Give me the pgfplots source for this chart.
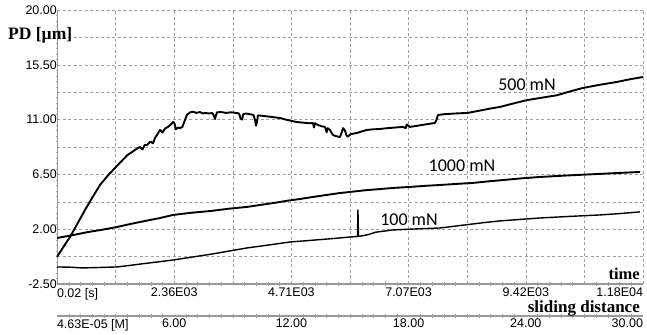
\documentclass[border=0pt]{standalone}
\usepackage{fontspec}
\setmainfont{Liberation Serif}
\newfontfamily\tsans{Liberation Sans}
\newfontfamily\calib{Carlito}
\usepackage{pgfplots}
\pgfplotsset{compat=1.18}
\begin{document}
\begin{tikzpicture}
\path[use as bounding box] (-57bp,-51bp) rectangle (590bp,284bp);
\begin{axis}[
  at={(0,0)}, anchor=south west,
  scale only axis, width=586bp, height=274bp,
  xmin=0, xmax=11780, ymin=-2.5, ymax=20,
  scaled x ticks=false, scaled y ticks=false,
  axis x line*=bottom, axis y line*=left,
  x axis line style={-, draw=gray!80, line width=1.6bp},
  y axis line style={-, draw=gray!80, line width=0.8bp},
  xtick={0,1178,2356,3534,4712,5890,7068,8246,9424,10602,11780},
  xticklabels={\makebox[0pt][l]{0.02 [s]},{},2.36E03,{},4.71E03,{},7.07E03,{},9.42E03,{},\makebox[0pt][r]{1.18E04}},
  ytick={-2.5,-0.25,2,4.25,6.5,8.75,11,13.25,15.5,17.75,20},
  yticklabels={-2.50,{},2.00,{},6.50,{},11.00,{},15.50,{},20.00},
  minor x tick num=4, minor y tick num=4,
  major tick length=0pt, minor tick length=3bp, tick align=center,
  tick style={draw=gray!70, line width=0.4bp},
  grid=major,
  major grid style={draw=gray!75, line width=0.5bp, dash pattern=on 3bp off 2.5bp},
  xticklabel style={font=\tsans\fontsize{12.5bp}{14bp}\selectfont, anchor=north, inner sep=0pt, yshift=-4bp},
  yticklabel style={font=\tsans\fontsize{12.5bp}{14bp}\selectfont, anchor=east, inner sep=0pt, xshift=0bp},
  clip=false,
]
% 500 mN
\addplot[black, line width=1.9bp, line join=round] coordinates {
(0,-0.28) (130,0.55) (261,1.36) (410,2.45) (563,3.58) (710,4.6) (864,5.63) (1010,6.35)
(1166,7.03) (1300,7.6) (1420,8.1) (1508,8.34) (1600,8.6) (1668,8.75) (1720,8.55) (1760,8.9)
(1809,8.92) (1880,9.2) (1930,9.05) (1970,9.49) (2020,9.8) (2070,10.15) (2120,9.95) (2180,10.3)
(2231,10.4) (2290,10.6) (2332,10.8) (2360,10.7) (2392,10.2) (2430,10.35) (2472,10.3) (2520,10.4)
(2553,10.75) (2585,11.1) (2613,11.4) (2680,11.6) (2734,11.65) (2800,11.55) (2870,11.62) (2940,11.5)
(2975,11.55) (3060,11.5) (3120,11.55) (3150,11.35) (3176,11.05) (3200,11.4) (3216,11.6) (3300,11.62)
(3400,11.55) (3500,11.6) (3600,11.55) (3660,11.5) (3690,11.1) (3720,11.0) (3745,11.45) (3799,11.5)
(3870,11.45) (3950,11.38) (3985,10.9) (4000,10.5) (4020,10.8) (4040,11.35) (4150,11.3) (4250,11.25)
(4350,11.2) (4482,11.13) (4600,11.0) (4700,10.9) (4824,10.8) (4950,10.75) (5080,10.7) (5146,10.72)
(5165,10.35) (5185,10.7) (5250,10.55) (5320,10.45) (5387,10.4) (5420,9.95) (5440,10.3) (5487,10.15)
(5520,9.9) (5548,9.74) (5600,9.65) (5650,9.6) (5688,9.57) (5720,9.9) (5750,10.3) (5789,10.1)
(5820,9.7) (5849,9.6) (5900,9.8) (5960,9.85) (6030,9.9) (6100,10.0) (6231,10.15) (6350,10.2)
(6492,10.23) (6650,10.3) (6800,10.35) (6950,10.4) (7010,10.3) (7030,10.6) (7095,10.4) (7250,10.5)
(7400,10.6) (7598,10.72) (7630,11.0) (7658,11.38) (7800,11.45) (8000,11.5) (8261,11.55) (8450,11.7)
(8700,11.9) (8904,12.04) (9150,12.3) (9447,12.6) (9750,12.8) (10050,13.0) (10300,13.3) (10573,13.6)
(10900,13.85) (11256,14.09) (11500,14.3) (11780,14.5)
};
% 1000 mN
\addplot[black, line width=1.9bp, line join=round] coordinates {
(0,1.28) (300,1.5) (600,1.75) (900,1.95) (1206,2.18) (1500,2.45) (1800,2.7) (2050,2.9) (2332,3.17)
(2700,3.35) (3100,3.5) (3450,3.68) (3819,3.83) (4100,4.0) (4350,4.15) (4620,4.33) (4884,4.48)
(5150,4.65) (5400,4.8) (5650,4.95) (5889,5.06) (6200,5.2) (6500,5.3) (6800,5.4) (7095,5.47)
(7400,5.56) (7698,5.63) (8030,5.72) (8362,5.8) (8700,5.94) (9000,6.05) (9350,6.18) (9708,6.29)
(10200,6.4) (10700,6.5) (11200,6.6) (11720,6.7)
};
% 100 mN
\addplot[black, line width=1.4bp, line join=round] coordinates {
(0,-1.1) (260,-1.12) (520,-1.18) (800,-1.15) (1206,-1.1) (1450,-0.98) (1700,-0.85) (2000,-0.7) (2332,-0.53)
(2700,-0.3) (3100,-0.05) (3450,0.2) (3819,0.46) (4250,0.7) (4683,0.95) (5000,1.05) (5300,1.15) (5600,1.25)
(5889,1.36) (6040,1.4) (6050,3.58) (6060,1.4) (6120,1.45) (6250,1.55) (6400,1.75) (6754,1.94) (7200,2.02)
(7698,2.1) (8000,2.25) (8300,2.4) (8600,2.55) (8904,2.68) (9300,2.8) (9708,2.92) (10300,3.05)
(10914,3.17) (11300,3.28) (11720,3.42)
};
\end{axis}
\begin{axis}[
  at={(0,-32bp)}, anchor=south west,
  scale only axis, width=586bp, height=1bp,
  xmin=0, xmax=30, ymin=0, ymax=1,
  scaled x ticks=false,
  axis y line=none, axis x line*=bottom,
  x axis line style={-, draw=gray!80, line width=1.6bp},
  xtick={0,6,12,18,24,30},
  xticklabels={\makebox[0pt][l]{4.63E-05 [M]},6.00,12.00,18.00,24.00,\makebox[0pt][r]{30.00}},
  minor x tick num=9,
  major tick length=0pt, minor tick length=3bp, tick align=center,
  tick style={draw=gray!70, line width=0.4bp},
  xticklabel style={font=\tsans\fontsize{12.5bp}{14bp}\selectfont, anchor=north, inner sep=0pt, yshift=-3bp},
]
\addplot[draw=none] coordinates {(0,0)};
\end{axis}
\node[anchor=west, inner sep=0pt, font=\bfseries\fontsize{17.5bp}{20bp}\selectfont] at (-49bp,249bp) {PD [µm]};
\node[anchor=base east, inner sep=0pt, font=\bfseries\fontsize{16.5bp}{19bp}\selectfont] at (583bp,5bp) {time};
\node[anchor=base east, inner sep=0pt, font=\bfseries\fontsize{17bp}{19bp}\selectfont] at (583bp,-28bp) {sliding distance};
\node[inner sep=0pt, font=\calib\fontsize{18bp}{20bp}\selectfont] at (470bp,199bp) {500 mN};
\node[inner sep=0pt, font=\calib\fontsize{18bp}{20bp}\selectfont] at (405bp,118bp) {1000 mN};
\node[inner sep=0pt, font=\calib\fontsize{18bp}{20bp}\selectfont] at (352bp,64bp) {100 mN};
\end{tikzpicture}
\end{document}
